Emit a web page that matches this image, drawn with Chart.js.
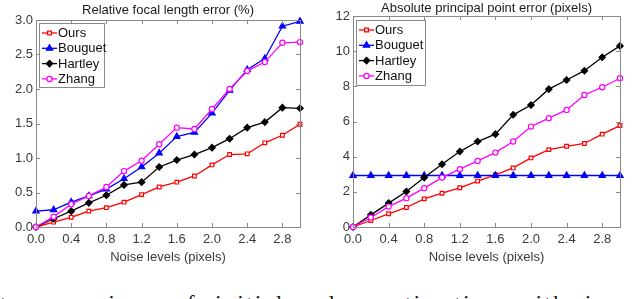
<!DOCTYPE html>
<html>
<head>
<meta charset="utf-8">
<script src="https://cdn.jsdelivr.net/npm/chart.js@4"></script>
<style>
  html, body { margin: 0; padding: 0; background: #fff; overflow: hidden; }
  #page { position: relative; width: 640px; height: 299px; overflow: hidden; }
  canvas { position: absolute; top: 0; }
  #left { left: 0; }
  #right { left: 320px; }
  #caption {
    position: absolute; left: 0; top: 292px; white-space: nowrap;
    font-family: 'Liberation Serif', serif; font-size: 22px; line-height: 22px;
    letter-spacing: 2.6px; word-spacing: 10px; color: #111;
  }
</style>
</head>
<body>
<div id="page">
  <canvas id="left" width="320" height="265"></canvas>
  <canvas id="right" width="320" height="265"></canvas>
  <div id="caption">t comparison of initial value estimation with increasing</div>
</div>
<script>
// Noise levels on the x axis (pixels)
var noiseLevels = [0, 0.2, 0.4, 0.6, 0.8, 1.0, 1.2, 1.4, 1.6, 1.8, 2.0, 2.2, 2.4, 2.6, 2.8, 3.0];
var xTickValues = [0, 0.4, 0.8, 1.2, 1.6, 2.0, 2.4, 2.8];
var methodNames = ['Ours', 'Bouguet', 'Hartley', 'Zhang'];

// Relative focal length error (%)
var focalOurs    = [0, 0.07, 0.14, 0.23, 0.28, 0.36, 0.47, 0.58, 0.65, 0.74, 0.90, 1.05, 1.06, 1.22, 1.33, 1.49];
var focalBouguet = [0.23, 0.25, 0.36, 0.45, 0.55, 0.70, 0.87, 1.07, 1.31, 1.37, 1.65, 1.98, 2.28, 2.44, 2.91, 2.98];
var focalHartley = [0, 0.12, 0.23, 0.35, 0.46, 0.61, 0.65, 0.87, 0.97, 1.05, 1.15, 1.28, 1.44, 1.52, 1.73, 1.72];
var focalZhang   = [0, 0.15, 0.33, 0.45, 0.58, 0.81, 0.96, 1.20, 1.44, 1.42, 1.71, 2.00, 2.26, 2.39, 2.67, 2.68];

// Absolute principal point error (pixels)
var ppOurs    = [0, 0.37, 0.75, 1.11, 1.60, 1.92, 2.23, 2.61, 2.97, 3.36, 3.93, 4.40, 4.59, 4.75, 5.28, 5.77];
var ppBouguet = [2.93, 2.93, 2.93, 2.93, 2.93, 2.93, 2.93, 2.93, 2.93, 2.93, 2.93, 2.93, 2.93, 2.93, 2.93, 2.93];
var ppHartley = [0, 0.69, 1.36, 2.02, 2.81, 3.57, 4.29, 4.86, 5.28, 6.38, 6.94, 7.84, 8.36, 8.89, 9.65, 10.30];
var ppZhang   = [0, 0.54, 1.16, 1.64, 2.21, 2.81, 3.29, 3.76, 4.23, 4.86, 5.71, 6.19, 6.66, 7.51, 7.95, 8.46];

var FONT = "'Liberation Sans', Arial, sans-serif";
var TEXT_COLOR = '#3a3a3a';
var AXIS_COLOR = '#8a8a8a';

// marker / line style for each method
var seriesStyles = [
    { color: '#ff0000', pointStyle: 'rect',     radius: 2.6, fill: '#ffffff', order: 4 },
    { color: '#0000ff', pointStyle: 'triangle', radius: 3.6, fill: '#0000ff', order: 3 },
    { color: '#000000', pointStyle: 'rectRot',  radius: 3.2, fill: '#000000', order: 2 },
    { color: '#ff00ff', pointStyle: 'circle',   radius: 2.6, fill: '#ffffff', order: 1 }
];

// Draws the plot box, inward tick marks, title and the in-plot legend
var frameAndLegend = {
    id: 'frameAndLegend',
    afterDatasetsDraw: function (chart, args, opts) {
        var ctx = chart.ctx;
        var area = chart.chartArea;
        var xs = chart.scales.x, ys = chart.scales.y;
        ctx.save();

        // plot box
        ctx.strokeStyle = AXIS_COLOR;
        ctx.lineWidth = 1;
        ctx.strokeRect(Math.round(area.left) + 0.5, Math.round(area.top) + 0.5,
            Math.round(area.right - area.left), Math.round(area.bottom - area.top));

        // inward ticks
        ctx.beginPath();
        xs.ticks.forEach(function (t) {
            var px = Math.round(xs.getPixelForValue(t.value)) + 0.5;
            ctx.moveTo(px, area.bottom); ctx.lineTo(px, area.bottom - 4);
            ctx.moveTo(px, area.top); ctx.lineTo(px, area.top + 4);
        });
        ys.ticks.forEach(function (t) {
            var py = Math.round(ys.getPixelForValue(t.value)) + 0.5;
            ctx.moveTo(area.left, py); ctx.lineTo(area.left + 4, py);
            ctx.moveTo(area.right, py); ctx.lineTo(area.right - 4, py);
        });
        ctx.stroke();

        // title
        ctx.fillStyle = '#1a1a1a';
        ctx.font = '13px ' + FONT;
        ctx.textAlign = 'center';
        ctx.textBaseline = 'middle';
        ctx.fillText(opts.title, (area.left + area.right) / 2, opts.titleY);

        // legend box
        var bx = area.left + opts.dx, by = area.top + opts.dy;
        ctx.fillStyle = '#ffffff';
        ctx.fillRect(bx, by, opts.w, opts.h);
        ctx.strokeStyle = AXIS_COLOR;
        ctx.strokeRect(Math.round(bx) + 0.5, Math.round(by) + 0.5, opts.w, opts.h);

        chart.data.datasets.forEach(function (ds, i) {
            var st = seriesStyles[i];
            var ry = by + opts.firstRow + i * opts.rowGap;
            ctx.strokeStyle = st.color;
            ctx.lineWidth = 1.3;
            ctx.beginPath();
            ctx.moveTo(bx + 3, ry); ctx.lineTo(bx + 18, ry);
            ctx.stroke();
            ctx.fillStyle = st.fill;
            Chart.helpers.drawPoint(ctx, { pointStyle: st.pointStyle, radius: st.radius, rotation: 0, borderWidth: 1.2 }, bx + 10.5, ry);
            ctx.fillStyle = '#111111';
            ctx.font = '13px ' + FONT;
            ctx.textAlign = 'left';
            ctx.textBaseline = 'middle';
            ctx.fillText(ds.label, bx + 19, ry + 0.5);
        });
        ctx.restore();
    }
};

function makeChart(canvasId, seriesData, yMax, yStep, yDecimals, yAxisWidth, topPad, legendOpts) {
    var datasets = seriesData.map(function (values, i) {
        var st = seriesStyles[i];
        return {
            label: methodNames[i],
            data: noiseLevels.map(function (x, k) { return { x: x, y: values[k] }; }),
            borderColor: st.color,
            backgroundColor: st.fill,
            pointBackgroundColor: st.fill,
            pointBorderColor: st.color,
            pointStyle: st.pointStyle,
            pointRadius: st.radius,
            pointBorderWidth: 1.2,
            borderWidth: 1.3,
            order: st.order,
            clip: false
        };
    });

    var config = {
        type: 'line',
        data: { datasets: datasets },
        options: {
            responsive: false,
            animation: false,
            devicePixelRatio: 1,
            layout: { padding: { top: topPad, right: 20, left: 0, bottom: 0 } },
            plugins: {
                legend: { display: false },
                tooltip: { enabled: false },
                frameAndLegend: legendOpts
            },
            scales: {
                x: {
                    type: 'linear',
                    min: 0,
                    max: 3,
                    afterBuildTicks: function (scale) {
                        scale.ticks = xTickValues.map(function (v) { return { value: v }; });
                    },
                    afterFit: function (scale) { scale.height = 38; },
                    grid: { display: false, drawTicks: false },
                    border: { display: false },
                    ticks: {
                        padding: 5,
                        maxRotation: 0,
                        autoSkip: false,
                        color: TEXT_COLOR,
                        font: { family: FONT, size: 13 },
                        callback: function (v) { return Number(v).toFixed(1); }
                    },
                    title: {
                        display: true,
                        text: 'Noise levels (pixels)',
                        color: TEXT_COLOR,
                        font: { family: FONT, size: 13 },
                        padding: { top: 2, bottom: 0 }
                    }
                },
                y: {
                    min: 0,
                    max: yMax,
                    afterFit: function (scale) { scale.width = yAxisWidth; },
                    grid: { display: false, drawTicks: false },
                    border: { display: false },
                    ticks: {
                        stepSize: yStep,
                        padding: 3,
                        color: TEXT_COLOR,
                        font: { family: FONT, size: 13 },
                        callback: function (v) { return Number(v).toFixed(yDecimals); }
                    }
                }
            }
        },
        plugins: [frameAndLegend]
    };

    var ctx = document.getElementById(canvasId).getContext('2d');
    return new Chart(ctx, config);
}

makeChart('left', [focalOurs, focalBouguet, focalHartley, focalZhang], 3, 0.5, 1, 36, 20, {
    title: 'Relative focal length error (%)', titleY: 10,
    dx: 3, dy: 3, w: 65, h: 64, firstRow: 10, rowGap: 15.3
});

makeChart('right', [ppOurs, ppBouguet, ppHartley, ppZhang], 12, 2, 0, 33, 16, {
    title: 'Absolute principal point error (pixels)', titleY: 8,
    dx: 3, dy: 4, w: 69, h: 65, firstRow: 10, rowGap: 15.3
});
</script>
</body>
</html>
